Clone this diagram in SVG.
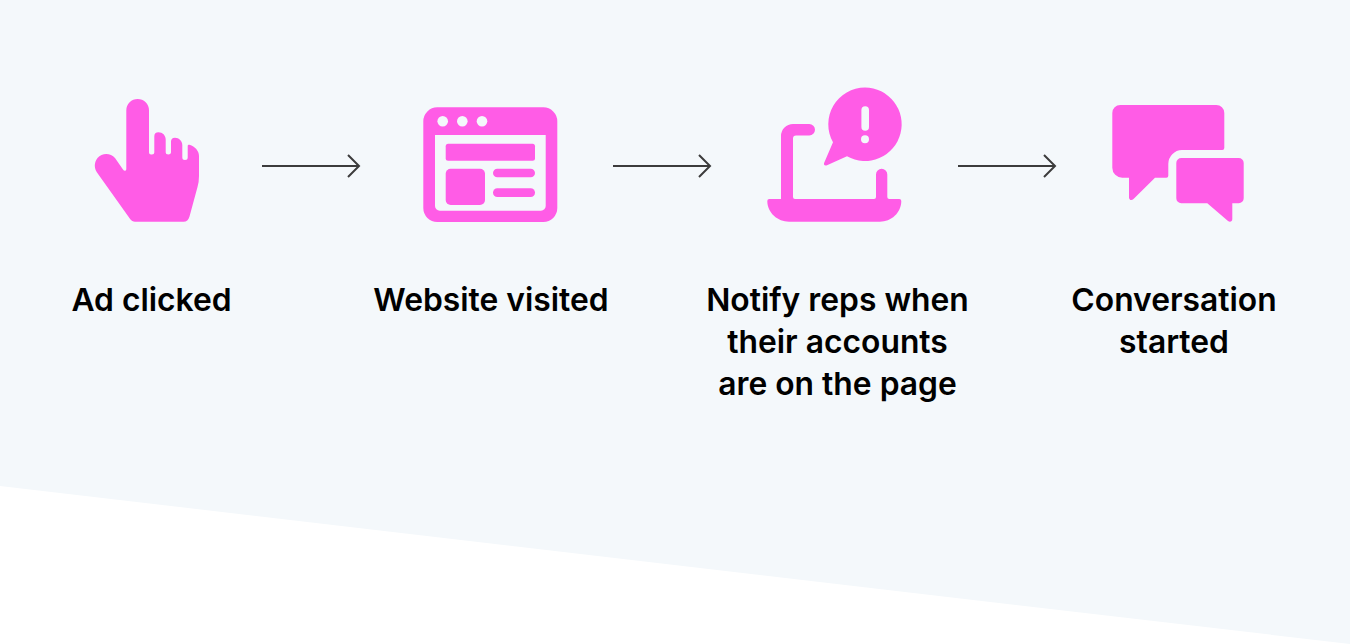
<svg xmlns="http://www.w3.org/2000/svg" width="1350" height="644" viewBox="0 0 1350 644">
<style>
.i{fill:#ff5ce6}
.c{fill:#f4f8fb}
.t{font-family:Inter,"Liberation Sans",sans-serif;font-size:31.8px;font-weight:560;fill:#000;text-anchor:middle}
.a{fill:none;stroke:#3c3c3c;stroke-width:2}
</style>
<rect class="c" width="1350" height="644"/>
<path d="M0 486L1350 644H0Z" fill="#fff"/>
<g id="connectors">
<path class="a" d="M262 166H359M348 155L359 166L348 177"/>
<path class="a" d="M613 166H710M699 155L710 166L699 177"/>
<path class="a" d="M958 166H1055M1044 155L1055 166L1044 177"/>
</g>
<g id="node-ad-clicked">
<path class="i" d="M126.300 110.300A11.350 11.350 0 0 1 149 110.300V152.500Q149 154.500 151 154.500H152Q154.300 154.500 154.300 152.500V136.500Q154.300 132.300 158.500 132.300C162.500 132.300 165.700 135.500 165.700 139.500V152.500Q165.700 154.500 168.300 154.500T171 152.500V141.500Q171 137.700 175 137.700C179 137.700 182.300 141 182.300 145V157.500Q182.300 160 185 160T187.700 157.500V146Q187.700 144.300 189.500 144.800C195 146.500 199 151 199 156V176Q199 182 197.500 187L189.500 216.500C188.600 220 186.500 221.700 183.500 221.700H135C133 221.700 131.500 221 130.300 219.300L97 172.500C94 168 94 162.500 97.500 158C102 152.500 110.500 152.500 115 158L123 169.500C124.300 171.500 126.300 171 126.300 169Z"/>
<text class="t" x="151.500" y="310.700">Ad clicked</text>
</g>
<g id="node-website-visited">
<path class="i" fill-rule="evenodd" d="M437.300 107.300H543.300A14 14 0 0 1 557.300 121.300V208A14 14 0 0 1 543.300 222H437.300A14 14 0 0 1 423.300 208V121.300A14 14 0 0 1 437.300 107.300ZM435 135V206A4.700 4.700 0 0 0 439.700 210.700H541A4.700 4.700 0 0 0 545.700 206V135Z"/>
<g class="c"><circle cx="442.700" cy="121.300" r="5.300"/><circle cx="462.300" cy="121.300" r="5.300"/><circle cx="482" cy="121.300" r="5.300"/></g>
<rect class="i" x="445.700" y="143.700" width="89.300" height="17" rx="2.500"/>
<rect class="i" x="445.700" y="168.700" width="39.300" height="36.300" rx="5"/>
<rect class="i" x="493" y="168.700" width="42" height="8.600" rx="4.300"/>
<rect class="i" x="493" y="188.300" width="42" height="8.700" rx="4.300"/>
<text class="t" x="491" y="310.700">Website visited</text>
</g>
<g id="node-notify-reps">
<path class="i" d="M767.300 201A2 2 0 0 1 769.300 199H781V136A12 12 0 0 1 793 124H809.300A5.700 5.700 0 0 1 809.300 135.400H796Q793 135.400 793 138.400V197Q793 199 795 199H874Q876 199 876 197V174.400A5.650 5.650 0 0 1 887.300 174.400V197Q887.300 199 889.300 199H899.300A2 2 0 0 1 901.300 201C901.300 213 891 221.700 880 221.700H789C778 221.700 767.300 213 767.300 201Z"/>
<path class="i" fill-rule="evenodd" d="M865 87.600A36.700 36.700 0 1 1 847 156.300L827 165.300C824.800 166.200 823.300 164.800 824.200 162.800L833 142.300A36.700 36.700 0 0 1 865 87.600ZM865.200 106.300A3.800 3.800 0 0 0 861.400 110.100V126.900A3.800 3.800 0 0 0 869 126.900V110.100A3.800 3.800 0 0 0 865.200 106.300ZM865 135.300A4 4 0 1 0 865 143.300A4 4 0 1 0 865 135.300Z"/>
<text class="t"><tspan x="837.500" y="310.700">Notify reps when</tspan><tspan x="837.500" y="352.700">their accounts</tspan><tspan x="837.500" y="394.700">are on the page</tspan></text>
</g>
<g id="node-conversation">
<path class="i" d="M1120.300 105H1216.300A8 8 0 0 1 1224.300 113V148Q1224.300 150 1222.300 150H1182A14 14 0 0 0 1168.300 164V175.700Q1168.300 177.700 1166.300 177.700H1155L1133.500 199C1131.500 201 1129 200 1129 197.500V177.700H1122.300A10 10 0 0 1 1112.300 167.700V113A8 8 0 0 1 1120.300 105Z"/>
<path class="i" d="M1181.300 158H1238.700A5 5 0 0 1 1243.700 163V198.300A5 5 0 0 1 1238.700 203.300H1232.300V219C1232.300 221.500 1230 222.500 1228 221L1207.300 203.300H1181.300A5 5 0 0 1 1176.300 198.300V163A5 5 0 0 1 1181.300 158Z"/>
<text class="t"><tspan x="1174" y="310.700">Conversation</tspan><tspan x="1174" y="352.700">started</tspan></text>
</g>
</svg>
